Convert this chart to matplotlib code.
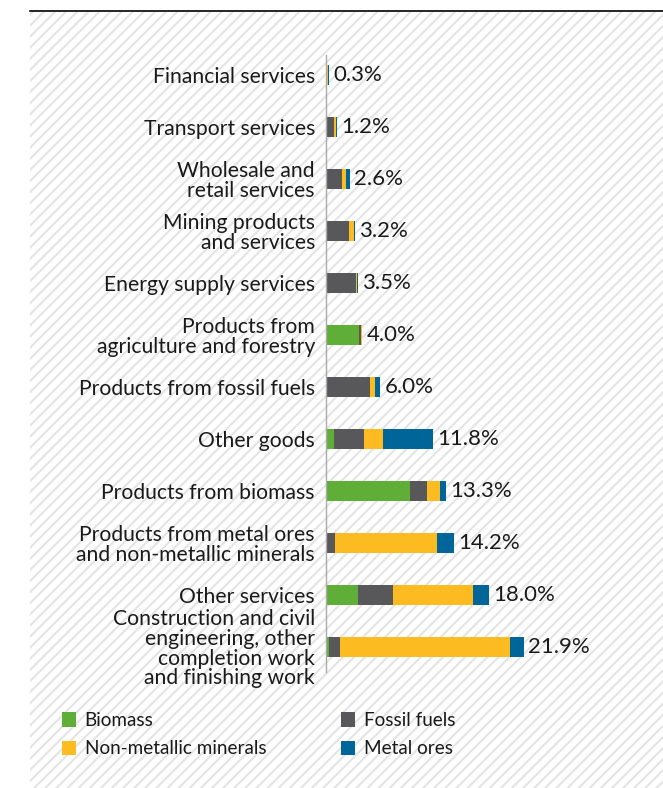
import matplotlib
matplotlib.use("Agg")
import matplotlib.pyplot as plt
from matplotlib.patches import Rectangle, Patch
from matplotlib.lines import Line2D
import numpy as np

categories = [
    "Financial services",
    "Transport services",
    "Wholesale and\nretail services",
    "Mining products\nand services",
    "Energy supply services",
    "Products from\nagriculture and forestry",
    "Products from fossil fuels",
    "Other goods",
    "Products from biomass",
    "Products from metal ores\nand non-metallic minerals",
    "Other services",
    "Construction and civil\nengineering, other\ncompletion work\nand finishing work",
]
totals = [0.3, 1.2, 2.6, 3.2, 3.5, 4.0, 6.0, 11.8, 13.3, 14.2, 18.0, 21.9]
biomass = [0.0, 0.0, 0.05, 0.0, 0.0, 3.7, 0.1, 0.92, 9.26, 0.0, 3.5, 0.35]
fossil = [0.1, 0.85, 1.7, 2.5, 3.28, 0.12, 4.8, 3.3, 1.95, 1.03, 3.9, 1.2]
nonmet = [0.1, 0.25, 0.5, 0.65, 0.1, 0.18, 0.55, 2.14, 1.44, 11.2, 8.9, 18.8]
metal = [0.1, 0.1, 0.35, 0.05, 0.12, 0.0, 0.55, 5.46, 0.66, 1.95, 1.7, 1.55]
series_names = ["Biomass", "Fossil fuels", "Non-metallic minerals", "Metal ores"]
colors = ["#5fae38", "#58585a", "#fbbb21", "#00669a"]

plt.rcParams['font.family'] = ['Lato', 'DejaVu Sans']
TXT = "#1a1a1a"
FS_TICK = 15.2
FS_VAL = 16
FS_LEG = 13.6

W, H = 663, 788
fig = plt.figure(figsize=(W / 100, H / 100), dpi=100)
fig.patch.set_facecolor("white")

plt.rcParams['hatch.linewidth'] = 1.5
bg = Rectangle((30 / W, 0), 1 - 30 / W, 1 - 12 / H, transform=fig.transFigure,
               facecolor="white", edgecolor="#e4e4e4", hatch="///", linewidth=0, zorder=-10)
fig.patches.append(bg)
fig.add_artist(Line2D([30 / W, 1], [1 - 11 / H, 1 - 11 / H], transform=fig.transFigure,
                      color="black", linewidth=1.2))

# axes: x from 326px, 9.04 px per %
ax_left = 326
ax_w = 300
ax_top = 55
ax_bot = 672
ax = fig.add_axes([ax_left / W, 1 - ax_bot / H, ax_w / W, (ax_bot - ax_top) / H])
ax.set_facecolor("none")
ax.set_xlim(0, ax_w / 9.04)
ax.set_ylim(11.48, -0.385)

y = np.arange(len(categories))
left = np.zeros(len(categories))
cont = None
for vals, col in zip([biomass, fossil, nonmet, metal], colors):
    cont = ax.barh(y, vals, left=left, height=0.4, color=col, linewidth=0)
    left = left + np.array(vals)

ax.bar_label(cont, labels=[f"{t:.1f}%" for t in totals], padding=3,
             fontsize=FS_VAL, color=TXT)

ax.set_yticks(y)
ax.set_yticklabels(categories, fontsize=FS_TICK, color=TXT, linespacing=0.98)
ax.tick_params(axis='y', length=0, pad=8)
ax.set_xticks([])
for s in ["top", "right", "bottom"]:
    ax.spines[s].set_visible(False)
ax.spines["left"].set_color("#aaaaaa")
ax.spines["left"].set_linewidth(1.0)

handles = [Patch(facecolor=c, edgecolor="none") for c in colors]
order = [0, 2, 1, 3]
leg = fig.legend([handles[i] for i in order], [series_names[i] for i in order],
                 ncol=2, loc="upper left", bbox_to_anchor=(62 / W, 1 - 712 / H),
                 frameon=False, fontsize=FS_LEG, handlelength=0.75, handleheight=0.8,
                 handletextpad=0.45, columnspacing=3.95, labelspacing=0.6,
                 borderaxespad=0, borderpad=0)
for t in leg.get_texts():
    t.set_color(TXT)

fig.savefig("out.png", dpi=100)
